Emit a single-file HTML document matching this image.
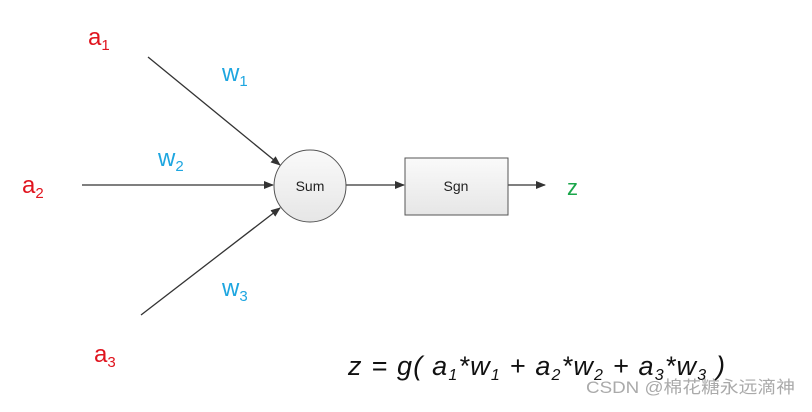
<!DOCTYPE html>
<html><head><meta charset="utf-8"><style>
body{margin:0;background:#fff;width:812px;height:407px;overflow:hidden}
svg text{font-family:"Liberation Sans","Noto Sans CJK SC",sans-serif}
</style></head><body>
<svg width="812" height="407" viewBox="0 0 812 407">
<defs>
<marker id="ar" markerWidth="10" markerHeight="8" refX="9" refY="4" orient="auto" markerUnits="userSpaceOnUse">
<path d="M0,0 L10,4 L0,8 Z" fill="#333"/></marker>
<linearGradient id="g1" x1="0" y1="0" x2="0" y2="1"><stop offset="0" stop-color="#fafafa"/><stop offset="1" stop-color="#e6e6e6"/></linearGradient>
</defs>
<g stroke="#333" stroke-width="1.3" fill="none">
<line x1="148" y1="57" x2="280" y2="165" marker-end="url(#ar)"/>
<line x1="82" y1="185" x2="273" y2="185" marker-end="url(#ar)"/>
<line x1="141" y1="315" x2="280" y2="208" marker-end="url(#ar)"/>
<line x1="346" y1="185" x2="404" y2="185" marker-end="url(#ar)"/>
<line x1="508" y1="185" x2="545" y2="185" marker-end="url(#ar)"/>
</g>
<circle cx="310" cy="186" r="36" fill="url(#g1)" stroke="#555" stroke-width="1"/>
<rect x="405" y="158" width="103" height="57" fill="url(#g1)" stroke="#555" stroke-width="1"/>
<text x="310" y="191" font-size="14" text-anchor="middle" fill="#222">Sum</text>
<text x="456" y="191" font-size="14" text-anchor="middle" fill="#222">Sgn</text>
<text x="567" y="195" font-size="22" fill="#1aa64a">z</text>
<g fill="#e0141e" font-size="24">
<text x="88" y="45">a<tspan font-size="15" dy="5">1</tspan></text>
<text x="22" y="193">a<tspan font-size="15" dy="5">2</tspan></text>
<text x="94" y="362">a<tspan font-size="15" dy="5">3</tspan></text>
</g>
<g fill="#1ea6e0" font-size="24">
<text x="222" y="81">w<tspan font-size="15" dy="5">1</tspan></text>
<text x="158" y="166">w<tspan font-size="15" dy="5">2</tspan></text>
<text x="222" y="296">w<tspan font-size="15" dy="5">3</tspan></text>
</g>
<text x="348" y="375" font-size="27" font-style="italic" fill="#111" textLength="377" lengthAdjust="spacing">z = g( a<tspan font-size="16" dy="5">1</tspan><tspan dy="-5">*w</tspan><tspan font-size="16" dy="5">1</tspan><tspan dy="-5"> + a</tspan><tspan font-size="16" dy="5">2</tspan><tspan dy="-5">*w</tspan><tspan font-size="16" dy="5">2</tspan><tspan dy="-5"> + a</tspan><tspan font-size="16" dy="5">3</tspan><tspan dy="-5">*w</tspan><tspan font-size="16" dy="5">3</tspan><tspan dy="-5"> )</tspan></text>
<text x="586" y="393" font-size="17" fill="#aaa" textLength="209" lengthAdjust="spacingAndGlyphs">CSDN @棉花糖永远滴神</text>
</svg>
</body></html>
